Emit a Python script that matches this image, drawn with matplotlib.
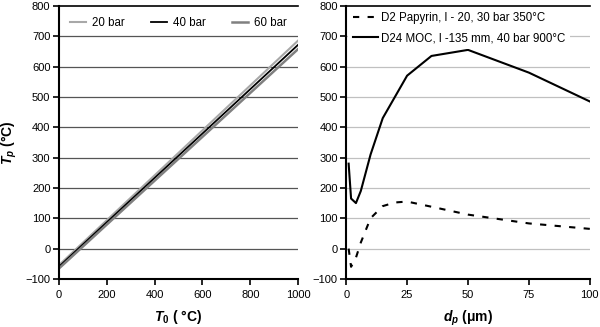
import matplotlib
matplotlib.use("Agg")
import matplotlib.pyplot as plt
import numpy as np

plt.rcParams['font.family'] = ['Liberation Sans', 'DejaVu Sans']
plt.rcParams['mathtext.fontset'] = 'custom'
plt.rcParams['mathtext.it'] = 'Liberation Sans:bold:italic'
plt.rcParams['mathtext.rm'] = 'Liberation Sans:bold'
plt.rcParams['mathtext.bf'] = 'Liberation Sans:bold'
plt.rcParams['mathtext.default'] = 'it'

# Left panel data
t0 = [0, 1000]
tp_20bar = [-55, 686]
tp_40bar = [-60, 672]
tp_60bar = [-66, 658]

# Right panel data
dp_papyrin = [1, 2, 4, 6, 8, 10, 15, 20, 25, 35, 50, 75, 100]
tp_papyrin = [0, -60, -30, 20, 60, 100, 140, 152, 155, 138, 112, 83, 65]
dp_moc = [1, 2, 4, 6, 10, 15, 25, 35, 50, 75, 100]
tp_moc = [280, 165, 150, 190, 310, 430, 570, 635, 655, 580, 485]

yticks = [-100, 0, 100, 200, 300, 400, 500, 600, 700, 800]

fig = plt.figure(figsize=(6, 3.27), dpi=100)
ax1 = fig.add_axes([0.098, 0.147, 0.399, 0.835])
ax2 = fig.add_axes([0.577, 0.147, 0.406, 0.835])

for ax in (ax1, ax2):
    ax.set_ylim(-100, 800)
    ax.set_yticks(yticks)
    ax.spines['right'].set_visible(False)
    ax.spines['top'].set_linewidth(1.2)
    for s in ('left', 'bottom'):
        ax.spines[s].set_linewidth(1.5)
    ax.tick_params(direction='out', length=4, width=1.2, labelsize=8)
    ax.tick_params(axis='x', pad=4)
    ax.tick_params(axis='y', pad=2)
    ax.set_axisbelow(True)

# gridlines
for y in yticks[1:-1]:
    ax1.axhline(y, color='#555555', lw=0.9, zorder=0)
    ax2.axhline(y, color='#c0c0c0', lw=0.9, zorder=0)

ax1.plot(t0, tp_20bar, color='#a8a8a8', lw=1.5, label='20 bar')
ax1.plot(t0, tp_40bar, color='black', lw=1.3, label='40 bar')
ax1.plot(t0, tp_60bar, color='#808080', lw=1.8, label='60 bar')
ax1.set_xlim(0, 1000)
ax1.set_xticks([0, 200, 400, 600, 800, 1000])
ax1.set_xlabel(r'$T_{\mathbf{0}}$ ( °C)', fontsize=10, fontweight='bold', labelpad=6)
ax1.set_ylabel(r'$T_p$ (°C)', fontsize=10, fontweight='bold', labelpad=5)
leg1 = ax1.legend(loc='upper center', ncol=3, frameon=True, fontsize=8.3,
                  handlelength=1.4, columnspacing=2.3, handletextpad=0.5,
                  bbox_to_anchor=(0.5, 0.985), borderaxespad=0.2)
leg1.get_frame().set_edgecolor('none')
leg1.get_frame().set_facecolor('white')
leg1.get_frame().set_alpha(1)

ax2.plot(dp_papyrin, tp_papyrin, color='black', lw=1.5, ls=(0, (3, 4)),
         label='D2 Papyrin, l - 20, 30 bar 350°C')
ax2.plot(dp_moc, tp_moc, color='black', lw=1.5,
         label='D24 MOC, l -135 mm, 40 bar 900°C')
ax2.set_xlim(0, 100)
ax2.set_xticks([0, 25, 50, 75, 100])
ax2.set_xlabel(r'$d_p$ (μm)', fontsize=10, fontweight='bold', labelpad=6)
leg2 = ax2.legend(loc='upper left', frameon=True, fontsize=8.3,
                  handlelength=2.2, handletextpad=0.3, labelspacing=0.7,
                  bbox_to_anchor=(0.0, 1.0), borderaxespad=0.15)
leg2.get_frame().set_edgecolor('none')
leg2.get_frame().set_facecolor('white')
leg2.get_frame().set_alpha(1)

fig.savefig('out.png', dpi=100)
